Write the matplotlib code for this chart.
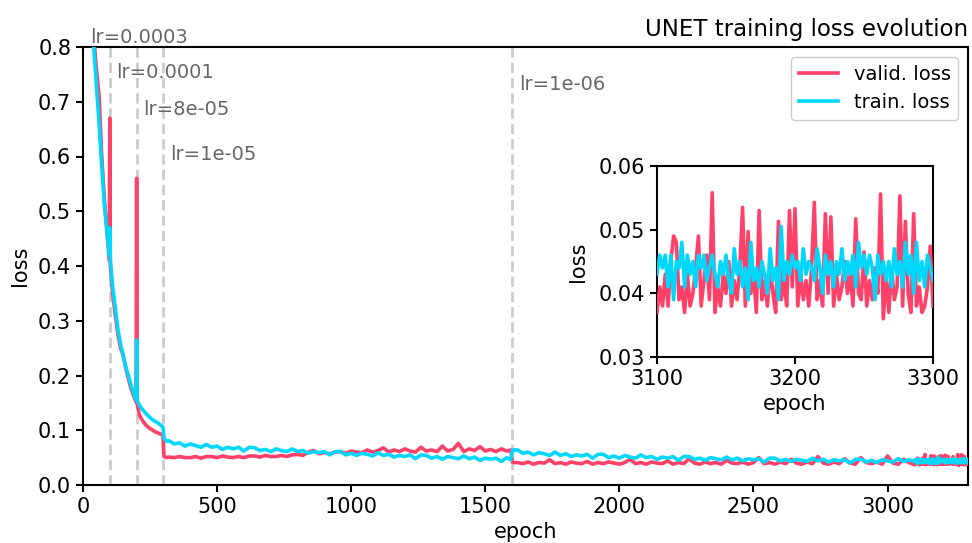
import numpy as np
import matplotlib
matplotlib.use("Agg")
import matplotlib.pyplot as plt

# ---------------- data ----------------
ep_early = [0, 10, 20, 30, 40, 50, 60, 70, 80, 90, 98, 100, 102, 110, 120, 130, 140,
            150, 160, 170, 180, 190, 198, 200, 202, 210, 220, 230, 240, 250, 260, 270,
            280, 290, 298]
train_early = [1.20, 1.02, 0.93, 0.86, 0.80, 0.73, 0.66, 0.58, 0.51, 0.46, 0.42, 0.47,
               0.41, 0.365, 0.325, 0.285, 0.258, 0.236, 0.215, 0.198, 0.181, 0.166,
               0.156, 0.265, 0.154, 0.146, 0.139, 0.133, 0.128, 0.123, 0.119, 0.116,
               0.113, 0.109, 0.106]
valid_early = [1.30, 1.06, 0.95, 0.88, 0.82, 0.76, 0.71, 0.60, 0.52, 0.46, 0.41, 0.67,
               0.40, 0.352, 0.312, 0.276, 0.250, 0.237, 0.212, 0.192, 0.175, 0.161,
               0.152, 0.56, 0.148, 0.128, 0.119, 0.112, 0.107, 0.103, 0.100, 0.097,
               0.095, 0.093, 0.091]

# epochs 302, 310, 320..1580 (step 20), 1595
ep_mid = [302, 310] + list(range(320, 1600, 20)) + [1595]
train_mid = [0.086, 0.080,
             0.081, 0.075, 0.077, 0.071, 0.075, 0.072, 0.069, 0.074,
             0.069, 0.071, 0.065, 0.069, 0.066, 0.069, 0.062, 0.069,
             0.068, 0.063, 0.065, 0.061, 0.066, 0.063, 0.061, 0.066,
             0.061, 0.063, 0.058, 0.061, 0.059, 0.061, 0.055, 0.061,
             0.061, 0.055, 0.058, 0.054, 0.058, 0.056, 0.053, 0.059,
             0.054, 0.056, 0.051, 0.054, 0.052, 0.055, 0.048, 0.055,
             0.054, 0.049, 0.052, 0.047, 0.052, 0.050, 0.048, 0.053,
             0.048, 0.051, 0.045, 0.049, 0.047, 0.049, 0.043, 0.050,
             0.046]
valid_mid = [0.052, 0.050,
             0.051, 0.050, 0.052, 0.050, 0.050, 0.052, 0.049, 0.052,
             0.052, 0.050, 0.053, 0.051, 0.050, 0.052, 0.050, 0.053,
             0.053, 0.051, 0.054, 0.052, 0.052, 0.054, 0.052, 0.055,
             0.056, 0.054, 0.060, 0.063, 0.057, 0.059, 0.057, 0.060,
             0.061, 0.058, 0.062, 0.060, 0.059, 0.064, 0.060, 0.063,
             0.068, 0.060, 0.064, 0.061, 0.066, 0.062, 0.060, 0.069,
             0.062, 0.064, 0.061, 0.071, 0.062, 0.065, 0.076, 0.061,
             0.066, 0.063, 0.070, 0.062, 0.065, 0.061, 0.066, 0.062,
             0.064]

# epochs 1602, 1620..3080 (step 20)
ep_late = [1602] + list(range(1620, 3100, 20))
train_late = [0.064,
              0.064, 0.058, 0.060, 0.055, 0.059, 0.057, 0.054, 0.060,
              0.054, 0.057, 0.052, 0.055, 0.053, 0.056, 0.049, 0.056,
              0.056, 0.050, 0.053, 0.049, 0.054, 0.051, 0.049, 0.055,
              0.050, 0.052, 0.047, 0.051, 0.049, 0.052, 0.045, 0.052,
              0.052, 0.047, 0.049, 0.045, 0.050, 0.048, 0.046, 0.051,
              0.046, 0.049, 0.044, 0.048, 0.046, 0.048, 0.042, 0.049,
              0.049, 0.044, 0.047, 0.043, 0.047, 0.045, 0.043, 0.049,
              0.044, 0.047, 0.042, 0.046, 0.044, 0.046, 0.040, 0.047,
              0.047, 0.042, 0.045, 0.041, 0.046, 0.044, 0.042, 0.048,
              0.043, 0.046]
valid_late = [0.041,
              0.041, 0.039, 0.042, 0.038, 0.041, 0.040, 0.046, 0.039,
              0.041, 0.038, 0.042, 0.040, 0.039, 0.043, 0.038, 0.041,
              0.039, 0.042, 0.040, 0.038, 0.041, 0.047, 0.039, 0.041,
              0.038, 0.042, 0.040, 0.039, 0.044, 0.038, 0.041, 0.039,
              0.048, 0.040, 0.038, 0.042, 0.039, 0.041, 0.038, 0.045,
              0.040, 0.039, 0.042, 0.038, 0.041, 0.050, 0.039, 0.041,
              0.038, 0.042, 0.039, 0.047, 0.040, 0.038, 0.042, 0.039,
              0.052, 0.040, 0.038, 0.042, 0.039, 0.048, 0.040, 0.038,
              0.050, 0.041, 0.039, 0.042, 0.038, 0.053, 0.040, 0.038,
              0.047, 0.041]

# epochs 3100..3300 (step 2)
ep_tail = list(range(3100, 3301, 2))
valid_tail = [0.037, 0.041, 0.038, 0.043, 0.038, 0.045, 0.049, 0.048, 0.039, 0.041,
              0.037, 0.043, 0.038, 0.040, 0.044, 0.049, 0.038, 0.042, 0.046, 0.039,
              0.0558, 0.037, 0.041, 0.038, 0.043, 0.040, 0.045, 0.038, 0.042, 0.039,
              0.044, 0.0535, 0.038, 0.0497, 0.040, 0.043, 0.037, 0.053, 0.039, 0.042,
              0.038, 0.044, 0.040, 0.037, 0.0513, 0.039, 0.042, 0.038, 0.053, 0.041,
              0.0533, 0.038, 0.043, 0.039, 0.042, 0.038, 0.044, 0.0543, 0.039, 0.042,
              0.038, 0.0525, 0.040, 0.052, 0.038, 0.043, 0.039, 0.041, 0.045, 0.040,
              0.043, 0.038, 0.0517, 0.040, 0.039, 0.0465, 0.038, 0.042, 0.039, 0.044,
              0.040, 0.0556, 0.036, 0.043, 0.037, 0.044, 0.039, 0.041, 0.0553, 0.038,
              0.0513, 0.040, 0.037, 0.0525, 0.038, 0.041, 0.037, 0.038, 0.041, 0.0474,
              0.038]
train_tail = [0.043, 0.046, 0.044, 0.046, 0.041, 0.046, 0.039, 0.045, 0.044, 0.048,
              0.041, 0.046, 0.043, 0.045, 0.041, 0.046, 0.044, 0.046, 0.042, 0.044,
              0.046, 0.043, 0.041, 0.045, 0.043, 0.046, 0.042, 0.040, 0.047, 0.043,
              0.045, 0.041, 0.044, 0.039, 0.048, 0.042, 0.044, 0.041, 0.045, 0.043,
              0.040, 0.047, 0.042, 0.044, 0.039, 0.0505, 0.042, 0.045, 0.043, 0.046,
              0.044, 0.045, 0.042, 0.047, 0.043, 0.045, 0.044, 0.042, 0.047, 0.044,
              0.040, 0.046, 0.043, 0.045, 0.041, 0.045, 0.043, 0.047, 0.042, 0.045,
              0.043, 0.046, 0.041, 0.048, 0.044, 0.046, 0.043, 0.046, 0.044, 0.039,
              0.046, 0.043, 0.045, 0.042, 0.045, 0.041, 0.047, 0.043, 0.045, 0.041,
              0.048, 0.043, 0.046, 0.040, 0.048, 0.042, 0.045, 0.041, 0.046, 0.044,
              0.042]

lr_epochs = [0, 100, 200, 300, 1600]
lr_labels = ["lr=0.0003", "lr=0.0001", "lr=8e-05", "lr=1e-05", "lr=1e-06"]
lr_text_y = [0.818, 0.754, 0.685, 0.603, 0.732]

# ---------------- assemble ----------------
epochs = np.array(ep_early + ep_mid + ep_late + ep_tail)
train = np.array(train_early + train_mid + train_late + train_tail)
valid = np.array(valid_early + valid_mid + valid_late + valid_tail)

C_VALID = "#ff4169"
C_TRAIN = "#00d7fb"
FS = 15
LW = 2.6

plt.rcParams["font.family"] = "DejaVu Sans"
plt.rcParams["font.size"] = FS

fig = plt.figure(figsize=(9.72, 5.43), dpi=100)
ax = fig.add_axes([83 / 972, 1 - 485 / 543, (968 - 83) / 972, (485 - 47) / 543])

ax.plot(epochs, valid, color=C_VALID, lw=LW, label="valid. loss", zorder=3)
ax.plot(epochs, train, color=C_TRAIN, lw=LW, label="train. loss", zorder=4)

for e, lab, ty in zip(lr_epochs, lr_labels, lr_text_y):
    if e > 0:
        ax.axvline(e, color="#cccccc", ls=(0, (3.7, 1.8)), lw=2, zorder=1)
    ax.text(e + 25, ty, lab, color="#666666", fontsize=14, va="center", ha="left",
            clip_on=False, zorder=5)

ax.set_xlim(0, 3300)
ax.set_ylim(0, 0.8)
ax.set_xticks([0, 500, 1000, 1500, 2000, 2500, 3000])
ax.set_yticks([0.0, 0.1, 0.2, 0.3, 0.4, 0.5, 0.6, 0.7, 0.8])
ax.set_xlabel("epoch", fontsize=FS, labelpad=4)
ax.set_ylabel("loss", fontsize=FS, labelpad=6)
ax.set_title("UNET training loss evolution", loc="right", fontsize=16.5, pad=8)
for s in ax.spines.values():
    s.set_linewidth(1.5)
ax.tick_params(width=1.5, length=5, labelsize=FS)
ax.legend(loc="upper right", fontsize=14, frameon=True, framealpha=1.0,
          edgecolor="#cccccc", borderaxespad=0.5)

# inset
axi = fig.add_axes([657 / 972, 1 - 357 / 543, (933 - 657) / 972, (357 - 166) / 543])
mask = epochs >= 3100
axi.plot(epochs[mask], valid[mask], color=C_VALID, lw=LW, zorder=3)
axi.plot(epochs[mask], train[mask], color=C_TRAIN, lw=LW, zorder=4)
axi.set_xlim(3100, 3300)
axi.set_ylim(0.03, 0.06)
axi.set_xticks([3100, 3200, 3300])
axi.set_yticks([0.03, 0.04, 0.05, 0.06])
axi.set_xlabel("epoch", fontsize=FS)
axi.set_ylabel("loss", fontsize=FS, labelpad=8)
for s in axi.spines.values():
    s.set_linewidth(1.5)
axi.tick_params(width=1.5, length=5, labelsize=FS)

fig.savefig("out.png", dpi=100)
